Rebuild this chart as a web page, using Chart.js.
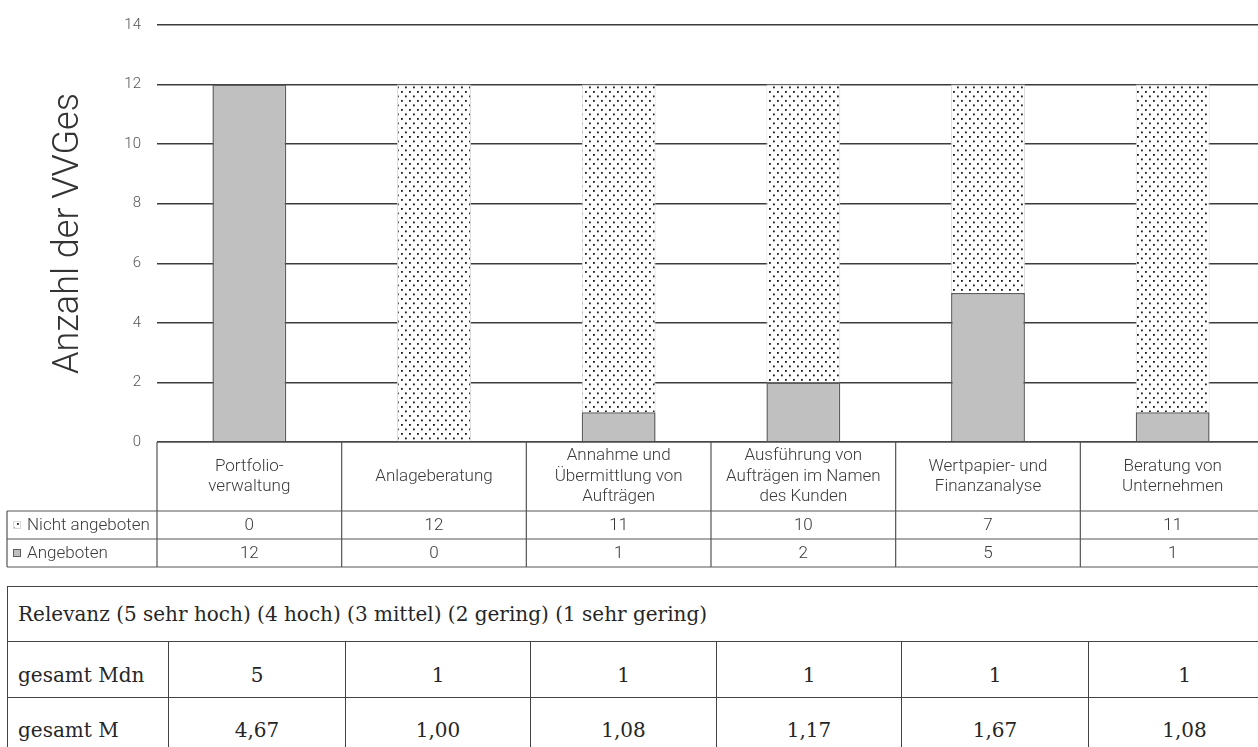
<!DOCTYPE html>
<html lang="de">
<head>
<meta charset="utf-8">
<title>Anzahl der VVGes</title>
<script src="https://cdn.jsdelivr.net/npm/chart.js@4.4.1/dist/chart.umd.min.js"></script>
<style>
	html, body { margin: 0; padding: 0; background: #fff; overflow: hidden; width: 1258px; height: 747px; }
	#chartBox { position: absolute; left: 0; top: 0; width: 1266px; height: 580px; }
	#relevanz { position: absolute; left: 7px; top: 586px; width: 1273px; border-collapse: collapse; table-layout: fixed;
		font-family: "DejaVu Serif", serif; font-size: 20px; color: #262626; }
	#relevanz td { border: 1.5px solid #444; padding: 0; text-align: center; }
	#relevanz td.head, #relevanz td.lbl { text-align: left; padding-left: 10px; }
	#relevanz tr.h { height: 55px; }
	#relevanz tr.r1 { height: 56px; }
	#relevanz tr.r2 { height: 55px; }
	#relevanz tr.r1 td, #relevanz tr.r2 td { padding-top: 10px; }
</style>
</head>
<body>
<div id="chartBox"><canvas id="myChart"></canvas></div>
<table id="relevanz">
	<colgroup>
		<col style="width:161px"><col style="width:177px"><col style="width:185px"><col style="width:186px">
		<col style="width:185px"><col style="width:187px"><col style="width:192px">
	</colgroup>
	<tbody></tbody>
</table>
<script>
// categories, one line per array entry
const categories = [
	['Portfolio-', 'verwaltung'],
	['Anlageberatung'],
	['Annahme und', 'Übermittlung von', 'Aufträgen'],
	['Ausführung von', 'Aufträgen im Namen', 'des Kunden'],
	['Wertpapier- und', 'Finanzanalyse'],
	['Beratung von', 'Unternehmen']
];
const nichtAngeboten = [0, 12, 11, 10, 7, 11];
const angeboten = [12, 0, 1, 2, 5, 1];
const yTicks = [0, 2, 4, 6, 8, 10, 12, 14];

const relevanzTitle = 'Relevanz (5 sehr hoch) (4 hoch) (3 mittel) (2 gering) (1 sehr gering)';
const medianLabel = 'gesamt Mdn';
const medianValues = ['5', '1', '1', '1', '1', '1'];
const meanLabel = 'gesamt M';
const meanValues = ['4,67', '1,00', '1,08', '1,17', '1,67', '1,08'];

//-----------------Pattern-------------------//
const makeDots = () => {
	const tile = document.createElement('canvas');
	tile.width = 8;
	tile.height = 9;
	const t = tile.getContext('2d');
	t.fillStyle = '#fff';
	t.fillRect(0, 0, 8, 9);
	t.fillStyle = '#1a1a1a';
	t.fillRect(1, 1, 1.8, 1.8);
	t.fillRect(5, 5.5, 1.8, 1.8);
	return t.createPattern(tile, 'repeat');
};
const dots = makeDots();
const grey = '#c0c0c0';

//-----------------Data table under the bars-------------------//
const tableFont = '300 17px Roboto';
const lineCol = '#555';

const dataTable = {
	id: 'dataTable',
	afterDraw(chart) {
		const { ctx, chartArea } = chart;
		const x = chart.scales.x;
		const colW = chartArea.width / categories.length;
		const top = chartArea.bottom;
		const headBottom = top + 69;
		const row1 = headBottom + 28;
		const row2 = row1 + 28;
		const leftEdge = 7;

		ctx.save();
		ctx.strokeStyle = lineCol;
		ctx.lineWidth = 1.2;
		ctx.beginPath();
		ctx.moveTo(chartArea.left, top); ctx.lineTo(chartArea.right, top);
		[headBottom, row1, row2].forEach(y => { ctx.moveTo(leftEdge, y); ctx.lineTo(chartArea.right, y); });
		ctx.moveTo(leftEdge, headBottom); ctx.lineTo(leftEdge, row2);
		for (let i = 0; i <= categories.length; i++) {
			const xx = chartArea.left + i * colW;
			ctx.moveTo(xx, top); ctx.lineTo(xx, row2);
		}
		ctx.stroke();

		ctx.fillStyle = '#3a3a3a';
		ctx.font = tableFont;
		ctx.textAlign = 'center';
		ctx.textBaseline = 'middle';
		const lh = 20.5;
		categories.forEach((lines, i) => {
			const cx = x.getPixelForValue(i);
			const cy = (top + headBottom) / 2 - (lines.length - 1) * lh / 2;
			lines.forEach((l, j) => ctx.fillText(l, cx, cy + j * lh));
		});

		const rows = [
			{ ds: chart.data.datasets[1], y: (headBottom + row1) / 2 },
			{ ds: chart.data.datasets[0], y: (row1 + row2) / 2 }
		];
		rows.forEach(r => {
			r.ds.data.forEach((v, i) => ctx.fillText(String(v), x.getPixelForValue(i), r.y + 1));
			// legend marker
			ctx.fillStyle = r.ds.backgroundColor;
			ctx.fillRect(13, r.y - 4, 8, 8);
			ctx.lineWidth = 1;
			ctx.strokeStyle = r.ds.borderColor;
			ctx.strokeRect(13.5, r.y - 3.5, 7, 7);
			ctx.fillStyle = '#3a3a3a';
			ctx.textAlign = 'left';
			ctx.fillText(r.ds.label, 27, r.y + 1);
			ctx.textAlign = 'center';
		});
		ctx.restore();
	}
};

const ctx = document.getElementById('myChart');
const myChart = new Chart(ctx, {
	type: 'bar',
	data: {
		labels: categories,
		datasets: [
			{
				label: 'Angeboten',
				data: angeboten,
				backgroundColor: grey,
				borderColor: '#5e5e5e',
				borderWidth: 1.5,
				barPercentage: 0.4,
				categoryPercentage: 1
			},
			{
				label: 'Nicht angeboten',
				data: nichtAngeboten,
				backgroundColor: dots,
				borderColor: '#d8d8d8',
				borderWidth: 1,
				barPercentage: 0.4,
				categoryPercentage: 1
			}
		]
	},
	options: {
		responsive: true,
		maintainAspectRatio: false,
		animation: false,
		layout: { padding: { top: 22, right: 1, bottom: 138, left: 0 } },
		plugins: { legend: { display: false }, tooltip: { enabled: false } },
		scales: {
			x: { stacked: true, display: false },
			y: {
				stacked: true,
				min: 0,
				max: 14,
				afterBuildTicks: (scale) => { scale.ticks = yTicks.map(v => ({ value: v })); },
				afterFit: (scale) => { scale.width = 157; },
				border: { display: false },
				grid: { color: '#3c3c3c', lineWidth: 1.5, drawTicks: false },
				ticks: { padding: 16, color: '#555', font: { family: 'Roboto', size: 15, weight: '300' } },
				title: {
					display: true,
					text: 'Anzahl der VVGes',
					color: '#333',
					font: { family: 'Roboto', size: 36, weight: '300' },
					padding: { top: 47, bottom: 0 }
				}
			}
		}
	},
	plugins: [dataTable]
});

//-----------------Relevanz table-------------------//
const tbody = document.querySelector('#relevanz tbody');
tbody.innerHTML =
	'<tr class="h"><td class="head" colspan="7">' + relevanzTitle + '</td></tr>' +
	'<tr class="r1"><td class="lbl">' + medianLabel + '</td>' + medianValues.map(v => '<td>' + v + '</td>').join('') + '</tr>' +
	'<tr class="r2"><td class="lbl">' + meanLabel + '</td>' + meanValues.map(v => '<td>' + v + '</td>').join('') + '</tr>';
</script>
</body>
</html>
